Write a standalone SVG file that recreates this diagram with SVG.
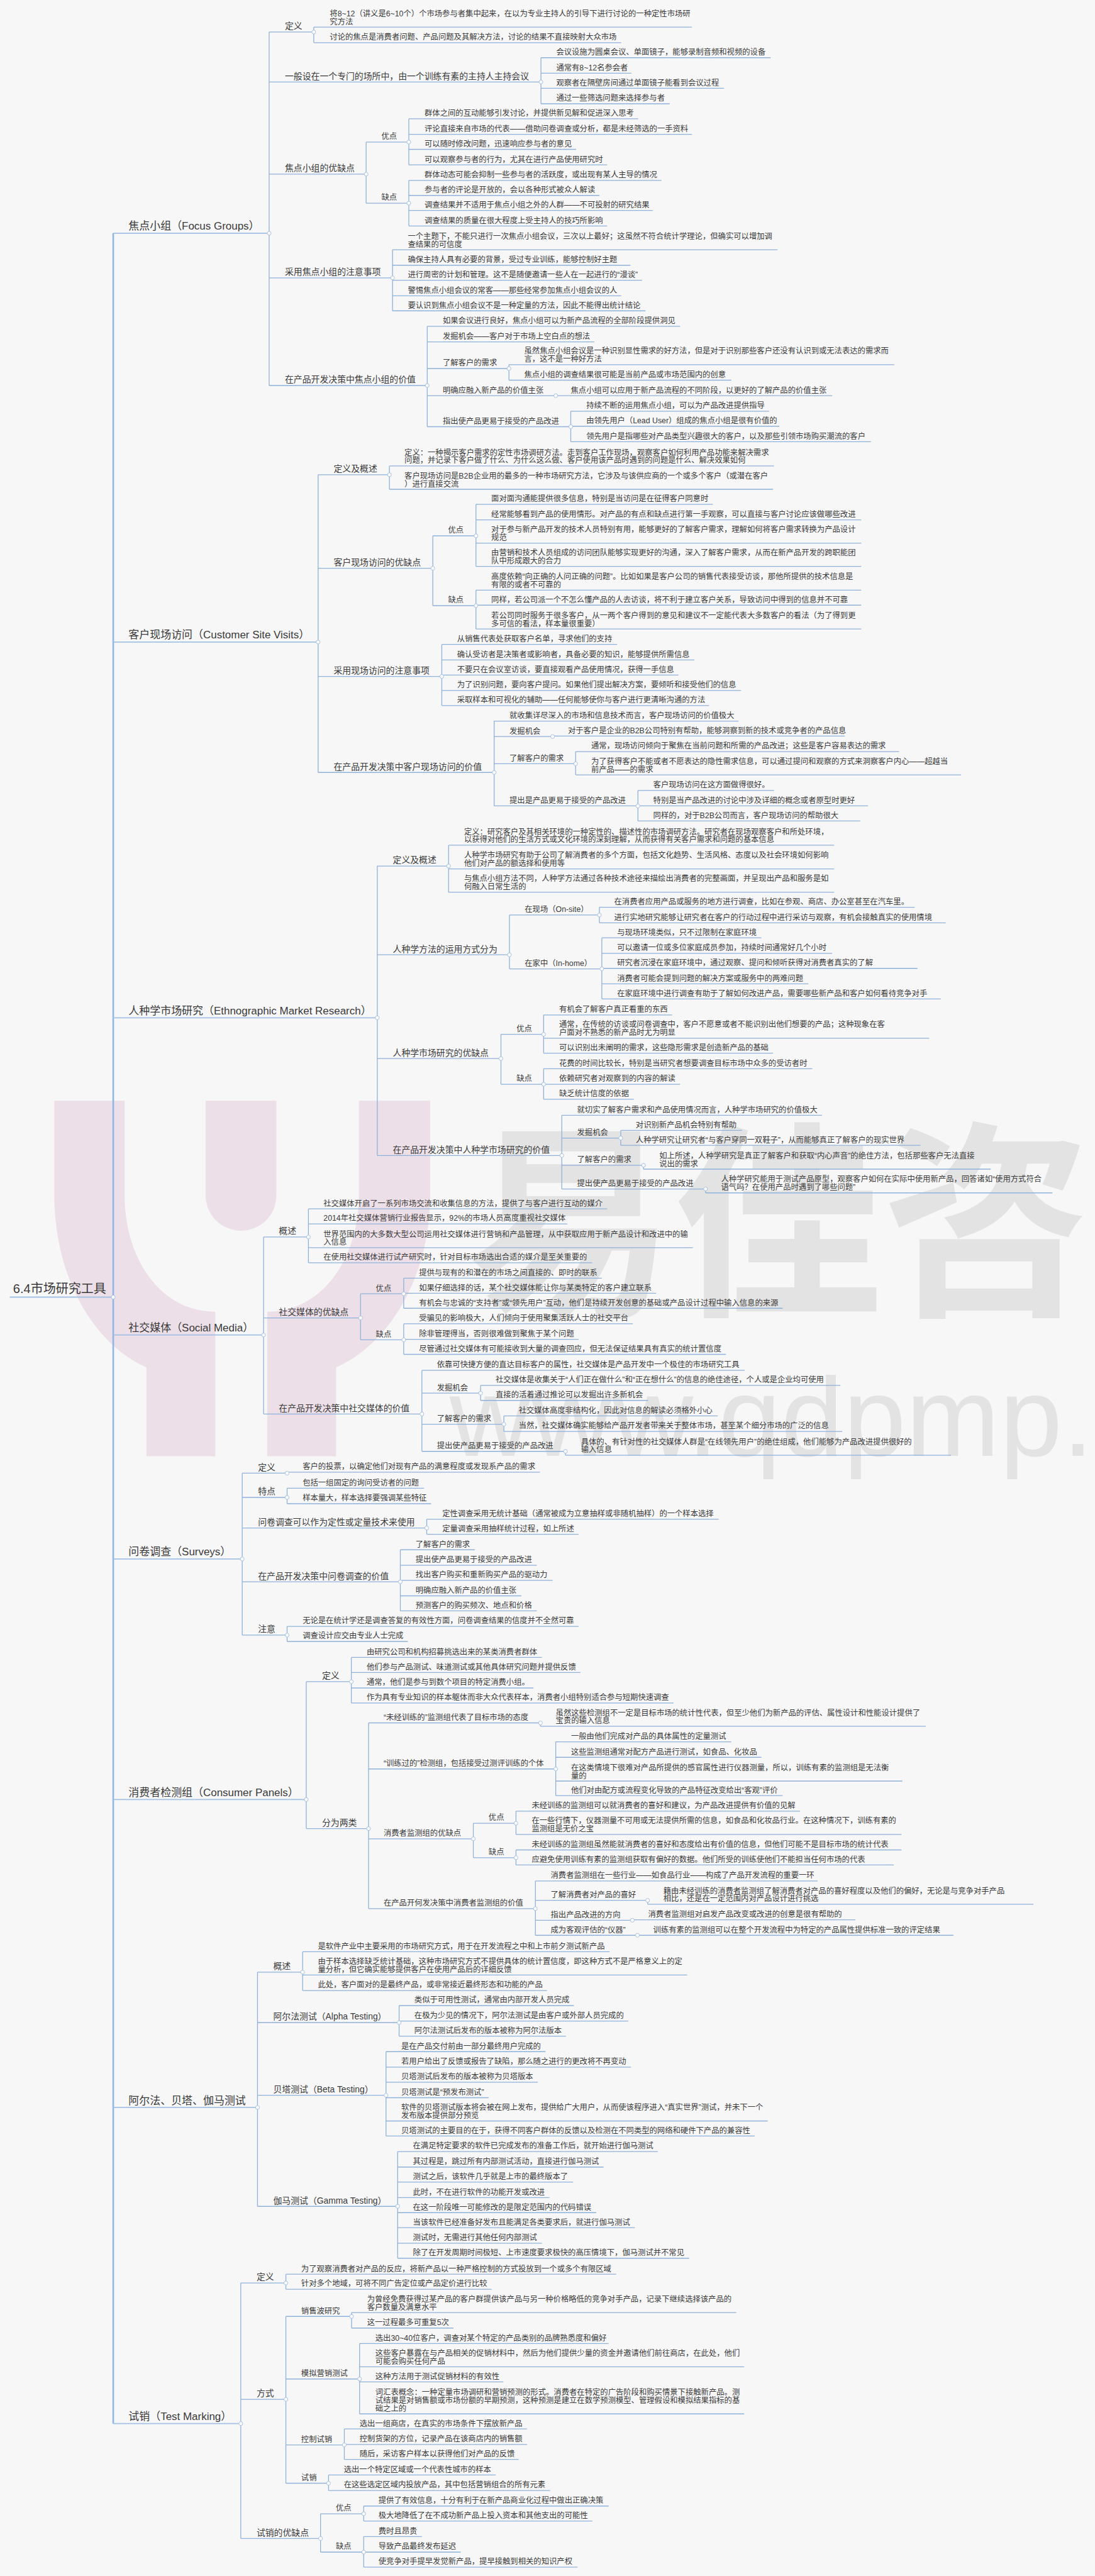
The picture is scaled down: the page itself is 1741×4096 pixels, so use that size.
<svg xmlns="http://www.w3.org/2000/svg" width="1741" height="4096" viewBox="0 0 1741 4096">
<style>
text{font-family:"Liberation Sans","Noto Sans CJK SC",sans-serif;fill:#3a3a3a;font-size:16px}
.r{font-size:26px}.a{font-size:22px}.b{font-size:18px}
.wm{fill:#e3e3e3;font-weight:700;font-family:"Noto Sans CJK SC",sans-serif}
.wu{fill:#e3e3e3;font-family:"Liberation Sans",sans-serif}
.pk{fill:#ecdfe7}
.c{fill:none;stroke:#8fb2da;stroke-width:1.7}
.k{fill:none;stroke:#a3c1e4;stroke-width:2.4}
.m{fill:none;stroke:#8fb6e4;stroke-width:3.4}
.j{fill:#fbfcfe;stroke:#a3bedd;stroke-width:1.2}
</style>
<rect width="1741" height="4096" fill="#f7f7f8"/>
<g transform="scale(.77104)">
<g id="watermark">
<path class="pk" d="M112 2270H257V2465C257 2595 330 2705 444 2705V3003H302V2820C190 2770 112 2630 112 2465Z"/>
<path class="pk" d="M887 2270H740V2465C740 2595 665 2705 551 2705V3003H693V2820C805 2770 887 2630 887 2465Z"/>
<path class="pk" d="M424 2270H570V2465A73 73 0 0 1 424 2465Z"/>
<text class="wm" x="960" y="2680" font-size="430" style="font-size:430px">易佳咨</text>
<text class="wu" x="927" y="3003" style="font-size:232px">www.qdpmp.</text>
</g>
<g id="connectors">
<path class="m" d="M233.5 481V4998"/>
<path class="k" d="M20 2675H233.5M233.5 481H555M233.5 1324H656M233.5 2099H778M233.5 2753H543.5M233.5 3215H499.5M233.5 3711H631.5M233.5 4346H531M233.5 4998H496.5"/>
<path class="c" d="M555 66V795M555 66H647M555 169H1115.5M555 359H755M555 573H809.5M555 795H881"/>
<path class="c" d="M647 56V88M647 56H1427M647 88H1281"/>
<path class="c" d="M1115.5 119V214M1115.5 119H1589M1115.5 151H1302M1115.5 182H1493M1115.5 214H1381"/>
<path class="c" d="M755 293V419M755 293H843M755 419H843"/>
<path class="c" d="M843 245V340M843 245H1316M843 277H1427M843 308H1188M843 340H1252"/>
<path class="c" d="M843 372V466M843 372H1364M843 403H1236M843 434H1346M843 466H1252"/>
<path class="c" d="M809.5 515V641M809.5 515H1603.5M809.5 547H1300M809.5 578H1324M809.5 610H1281M809.5 641H1331"/>
<path class="c" d="M881 673V880M881 673H1402.5M881 705H1225.5M881 760H1049.5M881 816H1146M881 880H1177"/>
<path class="c" d="M1049.5 752V784M1049.5 752H1844M1049.5 784H1508"/>
<path class="c" d="M1146 816H1716"/>
<path class="c" d="M1177 848V911M1177 848H1586M1177 879H1607M1177 911H1796"/>
<path class="c" d="M656 979V1593M656 979H803M656 1172H892.5M656 1395H911M656 1593H1019"/>
<path class="c" d="M803 961V1009M803 961H1596M803 1009H1594"/>
<path class="c" d="M892.5 1105V1249M892.5 1105H981.5M892.5 1249H981.5"/>
<path class="c" d="M981.5 1040V1168M981.5 1040H1470M981.5 1072H1776M981.5 1120H1776M981.5 1168H1776"/>
<path class="c" d="M981.5 1217V1297M981.5 1217H1776M981.5 1248H1776M981.5 1297H1776"/>
<path class="c" d="M911 1329V1455M911 1329H1272.5M911 1361H1432M911 1392H1399M911 1424H1528M911 1455H1462"/>
<path class="c" d="M1019 1487V1662M1019 1487H1523M1019 1519H1139.5M1019 1575H1187M1019 1662H1315.5"/>
<path class="c" d="M1139.5 1518H1742"/>
<path class="c" d="M1187 1550V1598M1187 1550H1854M1187 1598H1982"/>
<path class="c" d="M1315.5 1630V1693M1315.5 1630H1596M1315.5 1662H1790M1315.5 1693H1774"/>
<path class="c" d="M778 1786V2383M778 1786H925M778 1969H1050.5M778 2183H1033M778 2383H1158.5"/>
<path class="c" d="M925 1743V1840M925 1743H1720M925 1792H1720M925 1840H1720"/>
<path class="c" d="M1050.5 1887V1998M1050.5 1887H1236M1050.5 1998H1241"/>
<path class="c" d="M1236 1871V1903M1236 1871H1886M1236 1903H1950"/>
<path class="c" d="M1241 1934V2060M1241 1934H1570M1241 1966H1716M1241 1997H1892M1241 2029H1667M1241 2060H1940"/>
<path class="c" d="M1033 2133V2236M1033 2133H1121M1033 2236H1121"/>
<path class="c" d="M1121 2093V2172M1121 2093H1386M1121 2141H1916M1121 2172H1594"/>
<path class="c" d="M1121 2204V2267M1121 2204H1675M1121 2236H1402.5M1121 2267H1307"/>
<path class="c" d="M1158.5 2300V2452M1158.5 2300H1695M1158.5 2347H1280M1158.5 2403H1327M1158.5 2452H1455"/>
<path class="c" d="M1280 2331V2362M1280 2331H1530M1280 2362H1898"/>
<path class="c" d="M1327 2403V2411M1327 2411H2043"/>
<path class="c" d="M1455 2452V2460M1455 2460H2170"/>
<path class="c" d="M543.5 2551V2916M543.5 2551H636M543.5 2718H743.5M543.5 2916H870"/>
<path class="c" d="M636 2493V2604M636 2493H1252M636 2524H1170M636 2573H1429M636 2604H1221"/>
<path class="c" d="M743.5 2668V2763M743.5 2668H832.5M743.5 2763H832.5"/>
<path class="c" d="M832.5 2636V2698M832.5 2636H1241M832.5 2667H1353M832.5 2698H1614"/>
<path class="c" d="M832.5 2730V2793M832.5 2730H1305M832.5 2762H1193M832.5 2793H1497"/>
<path class="c" d="M870 2826V2993M870 2826H1535.5M870 2873H991M870 2937H1039M870 2993H1166"/>
<path class="c" d="M991 2857V2888M991 2857H1733M991 2888H1336.5"/>
<path class="c" d="M1039 2920V2952M1039 2920H1480M1039 2952H1737"/>
<path class="c" d="M1166 2993V3001M1166 3001H1961"/>
<path class="c" d="M499.5 3038V3372M499.5 3038H592M499.5 3088H592M499.5 3151H880M499.5 3262H825.5M499.5 3372H592"/>
<path class="c" d="M592 3038V3036M592 3036H1113.5"/>
<path class="c" d="M592 3069V3101M592 3069H874.5M592 3101H889"/>
<path class="c" d="M880 3133V3164M880 3133H1482M880 3164H1193"/>
<path class="c" d="M825.5 3196V3322M825.5 3196H979M825.5 3228H1107M825.5 3259H1139.5M825.5 3291H1075M825.5 3322H1107"/>
<path class="c" d="M592 3354V3385M592 3354H1193M592 3385H841"/>
<path class="c" d="M631.5 3468V3771M631.5 3468H724.5M631.5 3771H760"/>
<path class="c" d="M724.5 3418V3512M724.5 3418H1117.5M724.5 3449H1197M724.5 3481H1100M724.5 3512H1389"/>
<path class="c" d="M760 3553V3936M760 3553H1114.5M760 3648H1146M760 3792H976M760 3936H1104"/>
<path class="c" d="M1114.5 3553V3560M1114.5 3560H1909"/>
<path class="c" d="M1146 3592V3703M1146 3592H1508M1146 3624H1570M1146 3673H1861M1146 3703H1614"/>
<path class="c" d="M976 3760V3831M976 3760H1064M976 3831H1064"/>
<path class="c" d="M1064 3735V3783M1064 3735H1650M1064 3783H1859"/>
<path class="c" d="M1064 3815V3846M1064 3815H1859M1064 3846H1843"/>
<path class="c" d="M1104 3879V3991M1104 3879H1686M1104 3919H1335.5M1104 3960H1304M1104 3991H1314.5"/>
<path class="c" d="M1335.5 3919V3927M1335.5 3927H2131"/>
<path class="c" d="M1304 3959H1764"/>
<path class="c" d="M1314.5 3991H1966"/>
<path class="c" d="M531 4067V4550M531 4067H624M531 4171H823M531 4321H796M531 4550H820"/>
<path class="c" d="M624 4025V4105M624 4025H1257M624 4073H1417M624 4105H1128"/>
<path class="c" d="M823 4136V4199M823 4136H1183.5M823 4168H1295.5M823 4199H1167"/>
<path class="c" d="M796 4231V4405M796 4231H1125M796 4263H1301M796 4294H1109M796 4326H1007.5M796 4374H1583M796 4405H1556.5"/>
<path class="c" d="M820 4437V4657M820 4437H1356.5M820 4469H1244.5M820 4500H1181.5M820 4532H1133M820 4563H1229.5M820 4594H1309M820 4626H1117.5M820 4657H1421"/>
<path class="c" d="M496.5 4708V5235M496.5 4708H589.5M496.5 4948H589.5M496.5 5235H661"/>
<path class="c" d="M589.5 4690V4721M589.5 4690H1270.5M589.5 4721H1014"/>
<path class="c" d="M589.5 4777V5121M589.5 4777H725M589.5 4906H741.5M589.5 5042H710M589.5 5121H677.5"/>
<path class="c" d="M725 4769V4801M725 4769H1518M725 4801H935"/>
<path class="c" d="M741.5 4833V4978M741.5 4833H1255M741.5 4881H1534.5M741.5 4912H1038M741.5 4978H1534.5"/>
<path class="c" d="M710 5009V5072M710 5009H1087M710 5041H1087M710 5072H1069.5"/>
<path class="c" d="M677.5 5104V5136M677.5 5104H1022.5M677.5 5136H1134.5"/>
<path class="c" d="M661 5184V5263M661 5184H750M661 5263H750"/>
<path class="c" d="M750 5168V5199M750 5168H1255M750 5199H1221.5"/>
<path class="c" d="M750 5231V5294M750 5231H870M750 5263H950M750 5294H1191"/>
<g id="junctions">
<circle class="j" cx="233.5" cy="2675" r="4"/><circle class="j" cx="555" cy="481" r="4"/><circle class="j" cx="656" cy="1324" r="4"/><circle class="j" cx="778" cy="2099" r="4"/><circle class="j" cx="543.5" cy="2753" r="4"/><circle class="j" cx="499.5" cy="3215" r="4"/><circle class="j" cx="631.5" cy="3711" r="4"/><circle class="j" cx="531" cy="4346" r="4"/><circle class="j" cx="496.5" cy="4998" r="4"/>
<circle class="j" cx="647" cy="66" r="4"/><circle class="j" cx="1115.5" cy="169" r="4"/><circle class="j" cx="755" cy="359" r="4"/><circle class="j" cx="843" cy="293" r="4"/><circle class="j" cx="843" cy="419" r="4"/><circle class="j" cx="809.5" cy="573" r="4"/><circle class="j" cx="881" cy="795" r="4"/><circle class="j" cx="1049.5" cy="760" r="4"/><circle class="j" cx="1146" cy="816" r="4"/><circle class="j" cx="1177" cy="880" r="4"/>
<circle class="j" cx="803" cy="979" r="4"/><circle class="j" cx="892.5" cy="1172" r="4"/><circle class="j" cx="981.5" cy="1105" r="4"/><circle class="j" cx="981.5" cy="1249" r="4"/><circle class="j" cx="911" cy="1395" r="4"/><circle class="j" cx="1019" cy="1593" r="4"/><circle class="j" cx="1139.5" cy="1519" r="4"/><circle class="j" cx="1187" cy="1575" r="4"/><circle class="j" cx="1315.5" cy="1662" r="4"/>
<circle class="j" cx="925" cy="1786" r="4"/><circle class="j" cx="1050.5" cy="1969" r="4"/><circle class="j" cx="1236" cy="1887" r="4"/><circle class="j" cx="1241" cy="1998" r="4"/><circle class="j" cx="1033" cy="2183" r="4"/><circle class="j" cx="1121" cy="2133" r="4"/><circle class="j" cx="1121" cy="2236" r="4"/><circle class="j" cx="1158.5" cy="2383" r="4"/><circle class="j" cx="1280" cy="2347" r="4"/><circle class="j" cx="1327" cy="2403" r="4"/><circle class="j" cx="1455" cy="2452" r="4"/>
<circle class="j" cx="636" cy="2551" r="4"/><circle class="j" cx="743.5" cy="2718" r="4"/><circle class="j" cx="832.5" cy="2668" r="4"/><circle class="j" cx="832.5" cy="2763" r="4"/><circle class="j" cx="870" cy="2916" r="4"/><circle class="j" cx="991" cy="2873" r="4"/><circle class="j" cx="1039" cy="2937" r="4"/><circle class="j" cx="1166" cy="2993" r="4"/>
<circle class="j" cx="592" cy="3038" r="4"/><circle class="j" cx="592" cy="3088" r="4"/><circle class="j" cx="880" cy="3151" r="4"/><circle class="j" cx="825.5" cy="3262" r="4"/><circle class="j" cx="592" cy="3372" r="4"/>
<circle class="j" cx="724.5" cy="3468" r="4"/><circle class="j" cx="760" cy="3771" r="4"/><circle class="j" cx="1114.5" cy="3553" r="4"/><circle class="j" cx="1146" cy="3648" r="4"/><circle class="j" cx="976" cy="3792" r="4"/><circle class="j" cx="1064" cy="3760" r="4"/><circle class="j" cx="1064" cy="3831" r="4"/><circle class="j" cx="1104" cy="3936" r="4"/><circle class="j" cx="1335.5" cy="3919" r="4"/><circle class="j" cx="1304" cy="3960" r="4"/><circle class="j" cx="1314.5" cy="3991" r="4"/>
<circle class="j" cx="624" cy="4067" r="4"/><circle class="j" cx="823" cy="4171" r="4"/><circle class="j" cx="796" cy="4321" r="4"/><circle class="j" cx="820" cy="4550" r="4"/>
<circle class="j" cx="589.5" cy="4708" r="4"/><circle class="j" cx="589.5" cy="4948" r="4"/><circle class="j" cx="725" cy="4777" r="4"/><circle class="j" cx="741.5" cy="4906" r="4"/><circle class="j" cx="710" cy="5042" r="4"/><circle class="j" cx="677.5" cy="5121" r="4"/><circle class="j" cx="661" cy="5235" r="4"/><circle class="j" cx="750" cy="5184" r="4"/><circle class="j" cx="750" cy="5263" r="4"/>
</g>
</g>
<g id="root"><text class="r" x="27" y="2667">6.4市场研究工具</text></g>
<g id="focus-groups">
<g id="n1"><text class="a" x="265" y="474">焦点小组（Focus Groups）</text></g>
<g id="n2"><text class="b" x="587.5" y="60">定义</text></g>
<g id="n3"><text x="680" y="33.5">将8~12（讲义是6~10个）个市场参与者集中起来，在以为专业主持人的引导下进行讨论的一种定性市场研<tspan x="680" dy="16.7">究方法</tspan></text></g>
<g id="n4"><text x="680" y="82">讨论的焦点是消费者问题、产品问题及其解决方法，讨论的结果不直接映射大众市场</text></g>
<g id="n5"><text class="b" x="587.5" y="163">一般设在一个专门的场所中，由一个训练有素的主持人主持会议</text></g>
<g id="n6"><text x="1147" y="113">会议设施为圆桌会议、单面镜子，能够录制音频和视频的设备</text></g>
<g id="n7"><text x="1147" y="145">通常有8~12名参会者</text></g>
<g id="n8"><text x="1147" y="176">观察者在隔壁房间通过单面镜子能看到会议过程</text></g>
<g id="n9"><text x="1147" y="208">通过一些筛选问题来选择参与者</text></g>
<g id="n10"><text class="b" x="587.5" y="353">焦点小组的优缺点</text></g>
<g id="n11"><text x="786.5" y="287">优点</text></g>
<g id="n12"><text x="875.5" y="239">群体之间的互动能够引发讨论，并提供新见解和促进深入思考</text></g>
<g id="n13"><text x="875.5" y="271">评论直接来自市场的代表——借助问卷调查或分析，都是未经筛选的一手资料</text></g>
<g id="n14"><text x="875.5" y="302">可以随时修改问题，迅速响应参与者的意见</text></g>
<g id="n15"><text x="875.5" y="334">可以观察参与者的行为，尤其在进行产品使用研究时</text></g>
<g id="n16"><text x="786.5" y="413">缺点</text></g>
<g id="n17"><text x="875.5" y="366">群体动态可能会抑制一些参与者的活跃度，或出现有某人主导的情况</text></g>
<g id="n18"><text x="875.5" y="397">参与者的评论是开放的，会以各种形式被众人解读</text></g>
<g id="n19"><text x="875.5" y="428">调查结果并不适用于焦点小组之外的人群——不可投射的研究结果</text></g>
<g id="n20"><text x="875.5" y="460">调查结果的质量在很大程度上受主持人的技巧所影响</text></g>
<g id="n21"><text class="b" x="587.5" y="567">采用焦点小组的注意事项</text></g>
<g id="n22"><text x="841" y="492.5">一个主题下，不能只进行一次焦点小组会议，三次以上最好；这虽然不符合统计学理论，但确实可以增加调<tspan x="841" dy="16.7">查结果的可信度</tspan></text></g>
<g id="n23"><text x="841" y="541">确保主持人具有必要的背景，受过专业训练，能够控制好主题</text></g>
<g id="n24"><text x="841" y="572">进行周密的计划和管理。这不是随便邀请一些人在一起进行的“漫谈”</text></g>
<g id="n25"><text x="841" y="604">警惕焦点小组会议的常客——那些经常参加焦点小组会议的人</text></g>
<g id="n26"><text x="841" y="635">要认识到焦点小组会议不是一种定量的方法，因此不能得出统计结论</text></g>
<g id="n27"><text class="b" x="587.5" y="789">在产品开发决策中焦点小组的价值</text></g>
<g id="n28"><text x="913" y="667">如果会议进行良好，焦点小组可以为新产品流程的全部阶段提供洞见</text></g>
<g id="n29"><text x="913" y="699">发掘机会——客户对于市场上空白点的想法</text></g>
<g id="n30"><text x="913" y="754">了解客户的需求</text></g>
<g id="n31"><text x="1081" y="729.5">虽然焦点小组会议是一种识别显性需求的好方法，但是对于识别那些客户还没有认识到或无法表达的需求而<tspan x="1081" dy="16.7">言，这不是一种好方法</tspan></text></g>
<g id="n32"><text x="1081" y="778">焦点小组的调查结果很可能是当前产品或市场范围内的创意</text></g>
<g id="n33"><text x="913" y="810">明确应融入新产品的价值主张</text></g>
<g id="n34"><text x="1177" y="810">焦点小组可以应用于新产品流程的不同阶段，以更好的了解产品的价值主张</text></g>
<g id="n35"><text x="913" y="874">指出使产品更易于接受的产品改进</text></g>
<g id="n36"><text x="1209" y="842">持续不断的运用焦点小组，可以为产品改进提供指导</text></g>
<g id="n37"><text x="1209" y="873">由领先用户（Lead User）组成的焦点小组是很有价值的</text></g>
<g id="n38"><text x="1209" y="905">领先用户是指哪些对产品类型兴趣很大的客户，以及那些引领市场购买潮流的客户</text></g>
</g>
<g id="customer-site-visits">
<g id="n39"><text class="a" x="265" y="1317">客户现场访问（Customer Site Visits）</text></g>
<g id="n40"><text class="b" x="688" y="973">定义及概述</text></g>
<g id="n41"><text x="834" y="938.5">定义：一种揭示客户需求的定性市场调研方法。走到客户工作现场，观察客户如何利用产品功能来解决需求<tspan x="834" dy="16.7">问题，并记录下客户做了什么、为什么这么做、客户使用该产品时遇到的问题是什么、解决效果如何</tspan></text></g>
<g id="n42"><text x="834" y="986.5">客户现场访问是B2B企业用的最多的一种市场研究方法，它涉及与该供应商的一个或多个客户（或潜在客户<tspan x="834" dy="16.7">）进行直接交流</tspan></text></g>
<g id="n43"><text class="b" x="688" y="1166">客户现场访问的优缺点</text></g>
<g id="n44"><text x="924" y="1099">优点</text></g>
<g id="n45"><text x="1013" y="1034">面对面沟通能提供很多信息，特别是当访问是在征得客户同意时</text></g>
<g id="n46"><text x="1013" y="1066">经常能够看到产品的使用情形。对产品的有点和缺点进行第一手观察，可以直接与客户讨论应该做哪些改进</text></g>
<g id="n47"><text x="1013" y="1097.5">对于参与新产品开发的技术人员特别有用，能够更好的了解客户需求，理解如何将客户需求转换为产品设计<tspan x="1013" dy="16.7">规范</tspan></text></g>
<g id="n48"><text x="1013" y="1145.5">由营销和技术人员组成的访问团队能够实现更好的沟通，深入了解客户需求，从而在新产品开发的跨职能团<tspan x="1013" dy="16.7">队中形成跟大的合力</tspan></text></g>
<g id="n49"><text x="924" y="1243">缺点</text></g>
<g id="n50"><text x="1013" y="1194.5">高度依赖“向正确的人问正确的问题”。比如如果是客户公司的销售代表接受访谈，那他所提供的技术信息是<tspan x="1013" dy="16.7">有限的或者不可靠的</tspan></text></g>
<g id="n51"><text x="1013" y="1242">同样，若公司派一个不怎么懂产品的人去访谈，将不利于建立客户关系，导致访问中得到的信息并不可靠</text></g>
<g id="n52"><text x="1013" y="1274.5">若公司同时服务于很多客户，从一两个客户得到的意见和建议不一定能代表大多数客户的看法（为了得到更<tspan x="1013" dy="16.7">多可信的看法，样本量很重要）</tspan></text></g>
<g id="n53"><text class="b" x="688" y="1389">采用现场访问的注意事项</text></g>
<g id="n54"><text x="942.5" y="1323">从销售代表处获取客户名单，寻求他们的支持</text></g>
<g id="n55"><text x="942.5" y="1355">确认受访者是决策者或影响者，具备必要的知识，能够提供所需信息</text></g>
<g id="n56"><text x="942.5" y="1386">不要只在会议室访谈，要直接观看产品使用情况，获得一手信息</text></g>
<g id="n57"><text x="942.5" y="1418">为了识别问题，要向客户提问。如果他们提出解决方案，要倾听和接受他们的信息</text></g>
<g id="n58"><text x="942.5" y="1449">采取样本和可视化的辅助——任何能够使你与客户进行更清晰沟通的方法</text></g>
<g id="n59"><text class="b" x="688" y="1587">在产品开发决策中客户现场访问的价值</text></g>
<g id="n60"><text x="1050.5" y="1481">就收集详尽深入的市场和信息技术而言，客户现场访问的价值极大</text></g>
<g id="n61"><text x="1050.5" y="1513">发掘机会</text></g>
<g id="n62"><text x="1171" y="1512">对于客户是企业的B2B公司特别有帮助，能够洞察到新的技术或竞争者的产品信息</text></g>
<g id="n63"><text x="1050.5" y="1569">了解客户的需求</text></g>
<g id="n64"><text x="1219" y="1544">通常，现场访问倾向于聚焦在当前问题和所需的产品改进；这些是客户容易表达的需求</text></g>
<g id="n65"><text x="1219" y="1575.5">为了获得客户不能或者不愿表达的隐性需求信息，可以通过提问和观察的方式来洞察客户内心——超越当<tspan x="1219" dy="16.7">前产品——的需求</tspan></text></g>
<g id="n66"><text x="1050.5" y="1656">提出是产品更易于接受的产品改进</text></g>
<g id="n67"><text x="1347" y="1624">客户现场访问在这方面做得很好。</text></g>
<g id="n68"><text x="1347" y="1656">特别是当产品改进的讨论中涉及详细的概念或者原型时更好</text></g>
<g id="n69"><text x="1347" y="1687">同样的，对于B2B公司而言，客户现场访问的帮助很大</text></g>
</g>
<g id="ethnographic">
<g id="n70"><text class="a" x="265" y="2092">人种学市场研究（Ethnographic Market Research）</text></g>
<g id="n71"><text class="b" x="810" y="1780">定义及概述</text></g>
<g id="n72"><text x="957" y="1720.5">定义：研究客户及其相关环境的一种定性的、描述性的市场调研方法。研究者在现场观察客户和所处环境，<tspan x="957" dy="16.7">以获得对他们的生活方式或文化环境的深刻理解，从而获得有关客户需求和问题的基本信息</tspan></text></g>
<g id="n73"><text x="957" y="1769">人种学市场研究有助于公司了解消费者的多个方面，包括文化趋势、生活风格、态度以及社会环境如何影响<tspan x="957" dy="16.7">他们对产品的额选择和使用等</tspan></text></g>
<g id="n74"><text x="957" y="1817.5">与焦点小组方法不同，人种学方法通过各种技术途径来描绘出消费者的完整画面，并呈现出产品和服务是如<tspan x="957" dy="16.7">何融入日常生活的</tspan></text></g>
<g id="n75"><text class="b" x="810" y="1963">人种学方法的运用方式分为</text></g>
<g id="n76"><text x="1082" y="1881">在现场（On-site）</text></g>
<g id="n77"><text x="1266.5" y="1865">在消费者应用产品或服务的地方进行调查，比如在参观、商店、办公室甚至在汽车里。</text></g>
<g id="n78"><text x="1266.5" y="1897">进行实地研究能够让研究者在客户的行动过程中进行采访与观察，有机会接触真实的使用情境</text></g>
<g id="n79"><text x="1082" y="1992">在家中（In-home）</text></g>
<g id="n80"><text x="1272.5" y="1928">与现场环境类似，只不过限制在家庭环境</text></g>
<g id="n81"><text x="1272.5" y="1960">可以邀请一位或多位家庭成员参加，持续时间通常好几个小时</text></g>
<g id="n82"><text x="1272.5" y="1991">研究者沉浸在家庭环境中，通过观察、提问和倾听获得对消费者真实的了解</text></g>
<g id="n83"><text x="1272.5" y="2023">消费者可能会提到问题的解决方案或服务中的两难问题</text></g>
<g id="n84"><text x="1272.5" y="2054">在家庭环境中进行调查有助于了解如何改进产品，需要哪些新产品和客户如何看待竞争对手</text></g>
<g id="n85"><text class="b" x="810" y="2177">人种学市场研究的优缺点</text></g>
<g id="n86"><text x="1065" y="2127">优点</text></g>
<g id="n87"><text x="1153" y="2087">有机会了解客户真正看重的东西</text></g>
<g id="n88"><text x="1153" y="2118.5">通常，在传统的访谈或问卷调查中，客户不愿意或者不能识别出他们想要的产品；这种现象在客<tspan x="1153" dy="16.7">户面对不熟悉的新产品时尤为明显</tspan></text></g>
<g id="n89"><text x="1153" y="2166">可以识别出未阐明的需求，这些隐形需求是创造新产品的基础</text></g>
<g id="n90"><text x="1065" y="2230">缺点</text></g>
<g id="n91"><text x="1153" y="2198">花费的时间比较长，特别是当研究者想要调查目标市场中众多的受访者时</text></g>
<g id="n92"><text x="1153" y="2230">依赖研究者对观察到的内容的解读</text></g>
<g id="n93"><text x="1153" y="2261">缺乏统计信度的依据</text></g>
<g id="n94"><text class="b" x="810" y="2377">在产品开发决策中人种学市场研究的价值</text></g>
<g id="n95"><text x="1190" y="2294">就切实了解客户需求和产品使用情况而言，人种学市场研究的价值极大</text></g>
<g id="n96"><text x="1190" y="2341">发掘机会</text></g>
<g id="n97"><text x="1311" y="2325">对识别新产品机会特别有帮助</text></g>
<g id="n98"><text x="1311" y="2356">人种学研究让研究者“与客户穿同一双鞋子”，从而能够真正了解客户的现实世界</text></g>
<g id="n99"><text x="1190" y="2397">了解客户的需求</text></g>
<g id="n100"><text x="1359.5" y="2388.5">如上所述，人种学研究是真正了解客户和获取“内心声音”的绝佳方法，包括那些客户无法直接<tspan x="1359.5" dy="16.7">说出的需求</tspan></text></g>
<g id="n101"><text x="1190" y="2446">提出使产品更易于接受的产品改进</text></g>
<g id="n102"><text x="1487" y="2437.5">人种学研究能用于测试产品原型，观察客户如何在实际中使用新产品，回答诸如“使用方式符合<tspan x="1487" dy="16.7">语气吗？在使用产品时遇到了哪些问题”</tspan></text></g>
</g>
<g id="social-media">
<g id="n103"><text class="a" x="265" y="2746">社交媒体（Social Media）</text></g>
<g id="n104"><text class="b" x="575" y="2545">概述</text></g>
<g id="n105"><text x="667" y="2487">社交媒体开启了一系列市场交流和收集信息的方法，提供了与客户进行互动的媒介</text></g>
<g id="n106"><text x="667" y="2518">2014年社交媒体营销行业报告显示，92%的市场人员高度重视社交媒体</text></g>
<g id="n107"><text x="667" y="2550.5">世界范围内的大多数大型公司运用社交媒体进行营销和产品管理，从中获取应用于新产品设计和改进中的输<tspan x="667" dy="16.7">入信息</tspan></text></g>
<g id="n108"><text x="667" y="2598">在使用社交媒体进行试产研究时，针对目标市场选出合适的媒介是至关重要的</text></g>
<g id="n109"><text class="b" x="575" y="2712">社交媒体的优缺点</text></g>
<g id="n110"><text x="775" y="2662">优点</text></g>
<g id="n111"><text x="864" y="2630">提供与现有的和潜在的市场之间直接的、即时的联系</text></g>
<g id="n112"><text x="864" y="2661">如果仔细选择的话，某个社交媒体能让你与某类特定的客户建立联系</text></g>
<g id="n113"><text x="864" y="2692">有机会与忠诚的“支持者”或“领先用户”互动，他们是持续开发创意的基础或产品设计过程中输入信息的来源</text></g>
<g id="n114"><text x="775" y="2757">缺点</text></g>
<g id="n115"><text x="864" y="2724">受骗见的影响极大，人们倾向于使用聚集活跃人士的社交平台</text></g>
<g id="n116"><text x="864" y="2756">除非管理得当，否则很难做到聚焦于某个问题</text></g>
<g id="n117"><text x="864" y="2787">尽管通过社交媒体有可能接收到大量的调查回应，但无法保证结果具有真实的统计置信度</text></g>
<g id="n118"><text class="b" x="575" y="2910">在产品开发决策中社交媒体的价值</text></g>
<g id="n119"><text x="901" y="2820">依靠可快捷方便的直达目标客户的属性，社交媒体是产品开发中一个极佳的市场研究工具</text></g>
<g id="n120"><text x="901" y="2867">发掘机会</text></g>
<g id="n121"><text x="1022" y="2851">社交媒体是收集关于“人们正在做什么”和“正在想什么”的信息的绝佳途径，个人或是企业均可使用</text></g>
<g id="n122"><text x="1022" y="2882">直接的活着通过推论可以发掘出许多新机会</text></g>
<g id="n123"><text x="901" y="2931">了解客户的需求</text></g>
<g id="n124"><text x="1069.5" y="2914">社交媒体高度非结构化，因此对信息的解读必须格外小心</text></g>
<g id="n125"><text x="1069.5" y="2946">当然，社交媒体确实能够给产品开发者带来关于整体市场，甚至某个细分市场的广泛的信息</text></g>
<g id="n126"><text x="901" y="2987">提出使产品更易于接受的产品改进</text></g>
<g id="n127"><text x="1198" y="2978.5">具体的、有针对性的社交媒体人群是“在线领先用户”的绝佳组成，他们能够为产品改进提供很好的<tspan x="1198" dy="16.7">输入信息</tspan></text></g>
</g>
<g id="surveys">
<g id="n128"><text class="a" x="265" y="3208">问卷调查（Surveys）</text></g>
<g id="n129"><text class="b" x="532" y="3032">定义</text></g>
<g id="n130"><text x="624" y="3030">客户的投票，以确定他们对现有产品的满意程度或发现系产品的需求</text></g>
<g id="n131"><text class="b" x="532" y="3082">特点</text></g>
<g id="n132"><text x="624" y="3063">包括一组固定的询问受访者的问题</text></g>
<g id="n133"><text x="624" y="3095">样本量大，样本选择要强调某些特征</text></g>
<g id="n134"><text class="b" x="532" y="3145">问卷调查可以作为定性或定量技术来使用</text></g>
<g id="n135"><text x="912" y="3127">定性调查采用无统计基础（通常被成为立意抽样或非随机抽样）的一个样本选择</text></g>
<g id="n136"><text x="912" y="3158">定量调查采用抽样统计过程，如上所述</text></g>
<g id="n137"><text class="b" x="532" y="3256">在产品开发决策中问卷调查的价值</text></g>
<g id="n138"><text x="857" y="3190">了解客户的需求</text></g>
<g id="n139"><text x="857" y="3222">提出使产品更易于接受的产品改进</text></g>
<g id="n140"><text x="857" y="3253">找出客户购买和重新购买产品的驱动力</text></g>
<g id="n141"><text x="857" y="3285">明确应融入新产品的价值主张</text></g>
<g id="n142"><text x="857" y="3316">预测客户的购买频次、地点和价格</text></g>
<g id="n143"><text class="b" x="532" y="3366">注意</text></g>
<g id="n144"><text x="624" y="3348">无论是在统计学还是调查答复的有效性方面，问卷调查结果的信度并不全然可靠</text></g>
<g id="n145"><text x="624" y="3379">调查设计应交由专业人士完成</text></g>
</g>
<g id="consumer-panels">
<g id="n146"><text class="a" x="265" y="3704">消费者检测组（Consumer Panels）</text></g>
<g id="n147"><text class="b" x="664" y="3462">定义</text></g>
<g id="n148"><text x="756" y="3412">由研究公司和机构招募挑选出来的某类消费者群体</text></g>
<g id="n149"><text x="756" y="3443">他们参与产品测试、味道测试或其他具体研究问题并提供反馈</text></g>
<g id="n150"><text x="756" y="3475">通常，他们是参与到数个项目的特定消费小组。</text></g>
<g id="n151"><text x="756" y="3506">作为具有专业知识的样本躯体而非大众代表样本，消费者小组特别适合参与短期快速调查</text></g>
<g id="n152"><text class="b" x="664" y="3765">分为两类</text></g>
<g id="n153"><text x="791" y="3547">“未经训练的”监测组代表了目标市场的态度</text></g>
<g id="n154"><text x="1146" y="3537.5">虽然这些检测组不一定是目标市场的统计性代表，但至少他们为新产品的评估、属性设计和性能设计提供了<tspan x="1146" dy="16.7">宝贵的输入信息</tspan></text></g>
<g id="n155"><text x="791" y="3642">“训练过的”检测组，包括接受过测评训练的个体</text></g>
<g id="n156"><text x="1177.5" y="3586">一般由他们完成对产品的具体属性的定量测试</text></g>
<g id="n157"><text x="1177.5" y="3618">这些监测组通常对配方产品进行测试，如食品、化妆品</text></g>
<g id="n158"><text x="1177.5" y="3650.5">在这类情境下很难对产品所提供的感官属性进行仪器测量，所以，训练有素的监测组是无法衡<tspan x="1177.5" dy="16.7">量的</tspan></text></g>
<g id="n159"><text x="1177.5" y="3697">他们对由配方或流程变化导致的产品特征改变给出“客观”评价</text></g>
<g id="n160"><text x="791" y="3786">消费者监测组的优缺点</text></g>
<g id="n161"><text x="1007.5" y="3754">优点</text></g>
<g id="n162"><text x="1096.5" y="3729">未经训练的监测组可以就消费者的喜好和建议，为产品改进提供有价值的见解</text></g>
<g id="n163"><text x="1096.5" y="3760.5">在一些行情下，仪器测量不可用或无法提供所需的信息，如食品和化妆品行业。在这种情况下，训练有素的<tspan x="1096.5" dy="16.7">监测组是无价之宝</tspan></text></g>
<g id="n164"><text x="1007.5" y="3825">缺点</text></g>
<g id="n165"><text x="1096.5" y="3809">未经训练的监测组虽然能就消费者的喜好和态度给出有价值的信息，但他们可能不是目标市场的统计代表</text></g>
<g id="n166"><text x="1096.5" y="3840">应避免使用训练有素的监测组获取有偏好的数据。他们所受的训练使他们不能担当任何市场的代表</text></g>
<g id="n167"><text x="791" y="3930">在产品开何发决策中消费者监测组的价值</text></g>
<g id="n168"><text x="1135.5" y="3873">消费者监测组在一些行业——如食品行业——构成了产品开发流程的重要一环</text></g>
<g id="n169"><text x="1135.5" y="3913">了解消费者对产品的喜好</text></g>
<g id="n170"><text x="1368" y="3904.5">籍由未经训练的消费者监测组了解消费者对产品的喜好程度以及他们的偏好，无论是与竞争对手产品<tspan x="1368" dy="16.7">相比，还是在一定范围内对产品设计进行挑选</tspan></text></g>
<g id="n171"><text x="1135.5" y="3954">指出产品改进的方向</text></g>
<g id="n172"><text x="1336.5" y="3953">消费者监测组对启发产品改变或改进的创意是很有帮助的</text></g>
<g id="n173"><text x="1135.5" y="3985">成为客观评估的“仪器”</text></g>
<g id="n174"><text x="1347" y="3985">训练有素的监测组可以在整个开发流程中为特定的产品属性提供标准一致的评定结果</text></g>
</g>
<g id="alpha-beta-gamma">
<g id="n175"><text class="a" x="265" y="4339">阿尔法、贝塔、伽马测试</text></g>
<g id="n176"><text class="b" x="563.5" y="4061">概述</text></g>
<g id="n177"><text x="655.5" y="4019">是软件产业中主要采用的市场研究方式，用于在开发流程之中和上市前夕测试新产品</text></g>
<g id="n178"><text x="655.5" y="4050.5">由于样本选择缺乏统计基础，这种市场研究方式不提供具体的统计置信度，即这种方式不是严格意义上的定<tspan x="655.5" dy="16.7">量分析，但它确实能够提供客户在使用产品后的详细反馈</tspan></text></g>
<g id="n179"><text x="655.5" y="4099">此处，客户面对的是最终产品，或非常接近最终形态和功能的产品</text></g>
<g id="n180"><text class="b" x="563.5" y="4165">阿尔法测试（Alpha Testing）</text></g>
<g id="n181"><text x="854.5" y="4130">类似于可用性测试，通常由内部开发人员完成</text></g>
<g id="n182"><text x="854.5" y="4162">在极为少见的情况下，阿尔法测试是由客户或外部人员完成的</text></g>
<g id="n183"><text x="854.5" y="4193">阿尔法测试后发布的版本被称为阿尔法版本</text></g>
<g id="n184"><text class="b" x="563.5" y="4315">贝塔测试（Beta Testing）</text></g>
<g id="n185"><text x="827.5" y="4225">是在产品交付前由一部分最终用户完成的</text></g>
<g id="n186"><text x="827.5" y="4257">若用户给出了反馈或报告了缺陷，那么随之进行的更改将不再变动</text></g>
<g id="n187"><text x="827.5" y="4288">贝塔测试后发布的版本被称为贝塔版本</text></g>
<g id="n188"><text x="827.5" y="4320">贝塔测试是“预发布测试”</text></g>
<g id="n189"><text x="827.5" y="4351.5">软件的贝塔测试版本将会被在网上发布，提供给广大用户，从而使该程序进入“真实世界”测试，并未下一个<tspan x="827.5" dy="16.7">发布版本提供部分预览</tspan></text></g>
<g id="n190"><text x="827.5" y="4399">贝塔测试的主要目的在于，获得不同客户群体的反馈以及检测在不同类型的网络和硬件下产品的兼容性</text></g>
<g id="n191"><text class="b" x="563.5" y="4544">伽马测试（Gamma Testing）</text></g>
<g id="n192"><text x="851.5" y="4431">在满足特定要求的软件已完成发布的准备工作后，就开始进行伽马测试</text></g>
<g id="n193"><text x="851.5" y="4463">其过程是，跳过所有内部测试活动，直接进行伽马测试</text></g>
<g id="n194"><text x="851.5" y="4494">测试之后，该软件几乎就是上市的最终版本了</text></g>
<g id="n195"><text x="851.5" y="4526">此时，不在进行软件的功能开发或改进</text></g>
<g id="n196"><text x="851.5" y="4557">在这一阶段唯一可能修改的是限定范围内的代码错误</text></g>
<g id="n197"><text x="851.5" y="4588">当该软件已经准备好发布且能满足各类要求后，就进行伽马测试</text></g>
<g id="n198"><text x="851.5" y="4620">测试时，无需进行其他任何内部测试</text></g>
<g id="n199"><text x="851.5" y="4651">除了在开发周期时间极短、上市速度要求极快的高压情境下，伽马测试并不常见</text></g>
</g>
<g id="test-marking">
<g id="n200"><text class="a" x="265" y="4991">试销（Test Marking）</text></g>
<g id="n201"><text class="b" x="529" y="4702">定义</text></g>
<g id="n202"><text x="621" y="4684">为了观察消费者对产品的反应，将新产品以一种严格控制的方式投放到一个或多个有限区域</text></g>
<g id="n203"><text x="621" y="4715">针对多个地域，可将不同广告定位或产品定价进行比较</text></g>
<g id="n204"><text class="b" x="529" y="4942">方式</text></g>
<g id="n205"><text x="621" y="4771">销售波研究</text></g>
<g id="n206"><text x="757" y="4746.5">为曾经免费获得过某产品的客户群提供该产品与另一种价格略低的竞争对手产品，记录下继续选择该产品的<tspan x="757" dy="16.7">客户数量及满意水平</tspan></text></g>
<g id="n207"><text x="757" y="4795">这一过程最多可重复5次</text></g>
<g id="n208"><text x="621" y="4900">模拟营销测试</text></g>
<g id="n209"><text x="774" y="4827">选出30~40位客户，调查对某个特定的产品类别的品牌熟悉度和偏好</text></g>
<g id="n210"><text x="774" y="4858.5">这些客户暴露在与产品相关的促销材料中，然后为他们提供少量的资金并邀请他们前往商店，在此处，他们<tspan x="774" dy="16.7">可能会购买任何产品</tspan></text></g>
<g id="n211"><text x="774" y="4906">这种方法用于测试促销材料的有效性</text></g>
<g id="n212"><text x="774" y="4938.5">词汇表概念：一种定量市场调研和营销预测的形式。消费者在特定的广告阶段和购买情景下接触新产品。测<tspan x="774" dy="16.7">试结果是对销售额或市场份额的早期预测，这种预测是建立在数学预测模型、管理假设和模拟结果指标的基</tspan><tspan x="774" dy="16.7">础之上的</tspan></text></g>
<g id="n213"><text x="621" y="5036">控制试销</text></g>
<g id="n214"><text x="741.5" y="5003">选出一组商店，在真实的市场条件下摆放新产品</text></g>
<g id="n215"><text x="741.5" y="5035">控制货架的方位，记录产品在该商店内的销售额</text></g>
<g id="n216"><text x="741.5" y="5066">随后，采访客户样本以获得他们对产品的反馈</text></g>
<g id="n217"><text x="621" y="5115">试销</text></g>
<g id="n218"><text x="709" y="5098">选出一个特定区域或一个代表性城市的样本</text></g>
<g id="n219"><text x="709" y="5130">在这些选定区域内投放产品，其中包括营销组合的所有元素</text></g>
<g id="n220"><text class="b" x="529" y="5229">试销的优缺点</text></g>
<g id="n221"><text x="692.5" y="5178">优点</text></g>
<g id="n222"><text x="780.5" y="5162">提供了有效信息，十分有利于在新产品商业化过程中做出正确决策</text></g>
<g id="n223"><text x="780.5" y="5193">极大地降低了在不成功新产品上投入资本和其他支出的可能性</text></g>
<g id="n224"><text x="692.5" y="5257">缺点</text></g>
<g id="n225"><text x="780.5" y="5225">费时且昂贵</text></g>
<g id="n226"><text x="780.5" y="5257">导致产品最终发布延迟</text></g>
<g id="n227"><text x="780.5" y="5288">使竞争对手提早发觉新产品，提早接触到相关的知识产权</text></g>
</g>
</g>
</svg>
